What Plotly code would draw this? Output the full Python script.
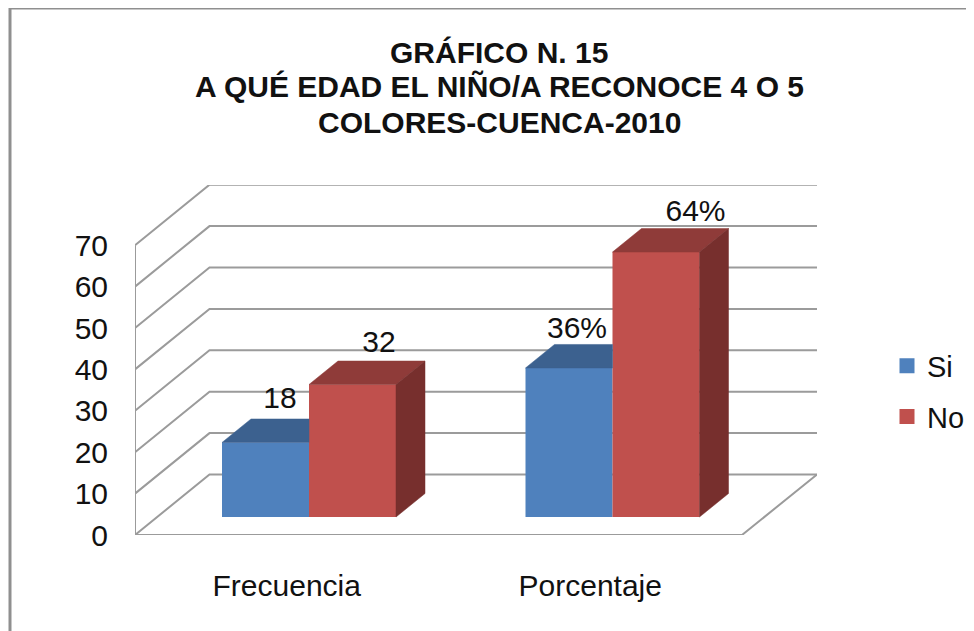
import plotly.graph_objects as go

categories = ["Frecuencia", "Porcentaje"]
si_values = [18, 36]
no_values = [32, 64]
si_labels = ["18", "36%"]
no_labels = ["32", "64%"]
axis_ticks = [0, 10, 20, 30, 40, 50, 60, 70]
title_lines = ["GRÁFICO N. 15", "A QUÉ EDAD EL NIÑO/A RECONOCE 4 O 5", "COLORES-CUENCA-2010"]

PAGE = 8                              # the page's own margin round the figure
W, H = 974 - PAGE, 631 - PAGE
L, R, T, B = 135 - PAGE, 817 - PAGE, 185 - PAGE, 535 - PAGE   # plot area in figure px
PX_X = 303.5                          # px per category
PX_Y = 4.14                           # px per value unit
X0, X1 = -0.5, -0.5 + (R - L) / PX_X
Y1 = (B - T) / PX_Y

WALL_DX, WALL_DY = 74.5 / PX_X, 60.5 / PX_Y   # floor depth
GAP_DX, GAP_DY = 22.25 / PX_X, 18 / PX_Y      # bars stand this far inside the floor
BAR_DX, BAR_DY = 29 / PX_X, 23.5 / PX_Y       # bar depth
BAR_W = 87 / PX_X

FONT = "Liberation Sans"
GRID = "#9b9b9b"
SI, SI_TOP = "#4f81bd", "#3c618f"
NO, NO_TOP, NO_SIDE = "#c0504d", "#8f3b39", "#772f2d"

fig = go.Figure()

# front faces
for name, vals, col in (("Si", si_values, SI), ("No", no_values, NO)):
    fig.add_bar(x=[i + GAP_DX for i in range(len(categories))], y=vals, base=GAP_DY, name=name,
                width=BAR_W, marker=dict(color=col, line_width=0), showlegend=False,
                offsetgroup=name)


def poly(xs, ys, col):
    fig.add_scatter(x=xs + xs[:1], y=ys + ys[:1], mode="lines", fill="toself", fillcolor=col,
                    line=dict(color=col, width=0.5), showlegend=False, hoverinfo="skip")


# top and side faces, computed from the values
for i in range(len(categories)):
    mid = i + GAP_DX
    a, b, c = mid - BAR_W, mid, mid + BAR_W
    s = si_values[i] + GAP_DY
    n = no_values[i] + GAP_DY
    poly([a, a + BAR_DX, b, b], [s, s + BAR_DY, s + BAR_DY, s], SI_TOP)
    poly([b, b + BAR_DX, c + BAR_DX, c], [n, n + BAR_DY, n + BAR_DY, n], NO_TOP)
    poly([c, c + BAR_DX, c + BAR_DX, c], [GAP_DY, GAP_DY + BAR_DY, n + BAR_DY, n], NO_SIDE)

# data labels
si_shift = [0, -6.5 / PX_X]
no_shift = [12 / PX_X, 25 / PX_X]
si_rise = [18 / PX_Y, 14 / PX_Y]
no_rise = [17 / PX_Y, 15 / PX_Y]
sx, sy, nx, ny = [], [], [], []
for i in range(len(categories)):
    mid = i + GAP_DX
    sx.append(mid - BAR_W / 2 + BAR_DX / 2 + si_shift[i])
    sy.append(si_values[i] + GAP_DY + BAR_DY + si_rise[i])
    nx.append(mid + BAR_W / 2 + BAR_DX / 2 + no_shift[i])
    ny.append(no_values[i] + GAP_DY + BAR_DY + no_rise[i])
for xs, ys, txt in ((sx, sy, si_labels), (nx, ny, no_labels)):
    fig.add_scatter(x=xs, y=ys, text=txt, mode="text", textposition="middle center",
                    textfont=dict(family=FONT, size=30, color="#111"), showlegend=False,
                    hoverinfo="skip")

# legend entries
for name, col in (("Si", SI), ("No", NO)):
    fig.add_scatter(x=[None], y=[None], mode="markers", name=name, legendgroup=name,
                    marker=dict(symbol="square", size=15, color=col))

# walls and floor
shapes = []
line = dict(color=GRID, width=2)
for v in axis_ticks:
    path = f"M{X0},{v} L{X0 + WALL_DX},{v + WALL_DY} L{X1},{v + WALL_DY}"
    shapes.append(dict(type="path", path=path, xref="x", yref="y", line=line, layer="below"))
shapes.append(dict(type="line", x0=X0, x1=X0, y0=0, y1=axis_ticks[-1], xref="x", yref="y",
                   line=line, layer="below"))
front_end = X0 + len(categories)
shapes.append(dict(type="path", path=f"M{X0},0 L{front_end},0 L{X1},{WALL_DY}", xref="x", yref="y",
                   line=line, layer="below"))
# chart frame
frame = dict(color="#8f8f8f", width=3)
fx = (10 - PAGE - L) / (R - L)
fy = (B - (8 - PAGE)) / (B - T)
shapes.append(dict(type="line", xref="paper", yref="paper", x0=fx, x1=fx,
                   y0=(B - H) / (B - T), y1=fy, line=frame))
shapes.append(dict(type="line", xref="paper", yref="paper", x0=fx, x1=(W - L) / (R - L),
                   y0=fy, y1=fy, line=frame))

annotations = []
for line_text, py in zip(title_lines, (52, 87, 122)):
    annotations.append(dict(text=f"<b>{line_text}</b>", xref="paper", yref="paper",
                            x=(499 - PAGE - L) / (R - L), y=(B - (py - PAGE)) / (B - T),
                            showarrow=False, xanchor="center", yanchor="middle",
                            font=dict(family=FONT, size=30, color="#111")))

fig.update_layout(
    width=W, height=H, autosize=False,
    margin=dict(l=L, r=W - R, t=T, b=H - B, pad=0, autoexpand=False),
    paper_bgcolor="white", plot_bgcolor="white",
    barmode="group", bargap=1 - 2 * BAR_W,
    showlegend=True,
    legend=dict(x=(887 - PAGE - L) / (R - L), y=(B - (340.5 - PAGE)) / (B - T), xanchor="left", yanchor="top",
                font=dict(family=FONT, size=29, color="#111"), bgcolor="rgba(0,0,0,0)",
                itemsizing="trace", tracegroupgap=10, traceorder="grouped"),
    shapes=shapes, annotations=annotations,
    xaxis=dict(range=[X0, X1], tickvals=list(range(len(categories))), ticktext=categories,
               showgrid=False, zeroline=False, showline=False, ticks="", ticklabelstandoff=30,
               automargin=False, tickfont=dict(family=FONT, size=30, color="#111")),
    yaxis=dict(range=[0, Y1], tickvals=axis_ticks, showgrid=False, zeroline=False, showline=False,
               ticks="", ticklabelstandoff=26, automargin=False,
               tickfont=dict(family=FONT, size=30, color="#111")),
)

fig.write_html("out.html")
